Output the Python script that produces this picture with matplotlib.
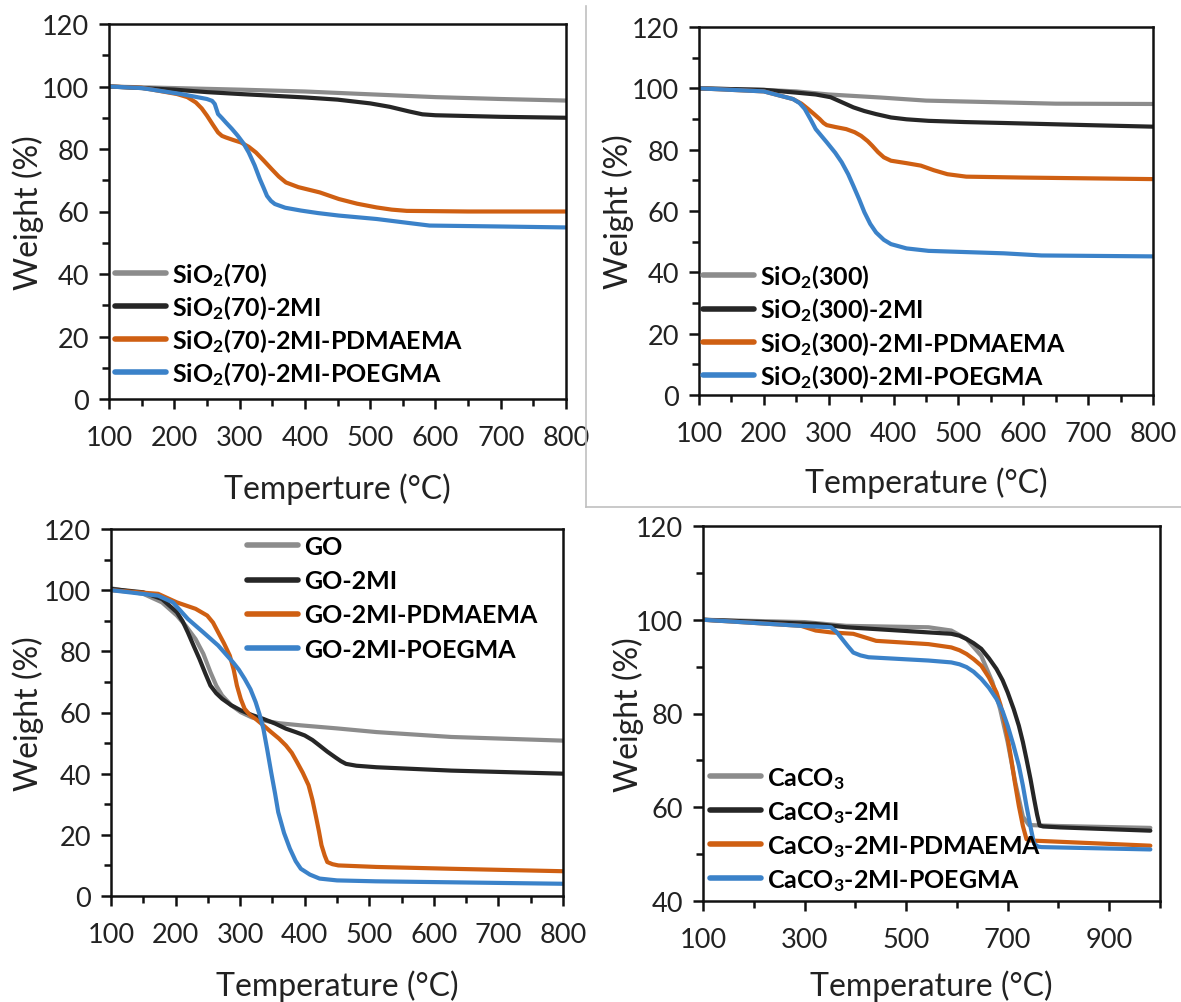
import matplotlib
matplotlib.use("Agg")
import matplotlib.pyplot as plt
from matplotlib.lines import Line2D
from matplotlib.ticker import MultipleLocator
import numpy as np

plt.rcParams["font.family"] = ["Lato", "DejaVu Sans"]
plt.rcParams["mathtext.fontset"] = "custom"
plt.rcParams["mathtext.rm"] = "Lato:bold"
plt.rcParams["mathtext.it"] = "Lato:bold"
plt.rcParams["mathtext.bf"] = "Lato:bold"

GRAY = "#8c8c8c"
BLACK = "#262626"
ORANGE = "#cf5f12"
BLUE = "#3b82c9"

# ---- SiO2(70) ----
t70_gray = [100, 200, 300, 400, 500, 600, 700, 800]
w70_gray = [100, 99.5, 99.0, 98.4, 97.5, 96.6, 96.0, 95.5]
t70_black = [100, 200, 250, 300, 400, 450, 500, 530, 560, 580, 600, 700, 800]
w70_black = [100, 99.0, 98.2, 97.6, 96.5, 95.8, 94.6, 93.5, 92.0, 91.1, 90.8, 90.3, 90.0]
t70_orange = [100, 150, 204, 220, 233, 242, 250, 259, 267, 273, 279, 290, 302, 314, 325, 337, 349, 360,
              371, 390, 423, 452, 480, 510, 533, 556, 650, 800]
w70_orange = [100, 99.6, 97.6, 96.6, 94.9, 93.0, 90.7, 87.8, 85.3, 84.2, 83.7, 82.9, 82.1, 80.7, 78.9, 76.3,
              73.6, 71.2, 69.3, 67.8, 66.1, 64.0, 62.5, 61.3, 60.6, 60.2, 60.0, 60.0]
t70_blue = [100, 150, 210, 250, 258, 262, 267, 273, 279, 288, 297, 306, 314, 323, 331, 337, 342, 348,
            354, 370, 394, 420, 452, 510, 556, 591, 700, 800]
w70_blue = [100, 99.5, 97.6, 96.0, 95.4, 94.4, 91.2, 89.9, 88.5, 86.5, 84.3, 81.8, 78.9, 74.8, 70.4, 67.5,
            65.0, 63.4, 62.4, 61.2, 60.3, 59.5, 58.7, 57.6, 56.4, 55.5, 55.2, 54.9]

# ---- SiO2(300) ----
t300_gray = [100, 200, 250, 300, 380, 450, 550, 650, 800]
w300_gray = [100, 99.5, 99.0, 98.0, 97.0, 96.0, 95.5, 95.0, 94.9]
t300_black = [100, 200, 250, 280, 303, 320, 338, 355, 373, 396, 420, 454, 510, 570, 700, 800]
w300_black = [100, 99.5, 98.6, 98.0, 97.1, 95.5, 93.8, 92.6, 91.6, 90.5, 89.9, 89.4, 89.0, 88.7, 88.0, 87.5]
t300_orange = [100, 200, 245, 258, 268, 278, 286, 292, 297, 310, 327, 340, 350, 360, 367, 376, 385, 396,
               420, 442, 462, 483, 512, 600, 800]
w300_orange = [100, 99.0, 96.5, 95.0, 93.3, 91.5, 90.0, 88.7, 88.0, 87.4, 86.7, 85.7, 84.5, 82.8, 81.3, 79.2,
               77.5, 76.4, 75.6, 74.8, 73.3, 72.0, 71.2, 70.9, 70.4]
t300_blue = [100, 200, 245, 255, 263, 272, 280, 297, 310, 320, 330, 338, 347, 355, 364, 373, 385, 396,
             420, 454, 570, 628, 800]
w300_blue = [100, 99.0, 96.5, 95.2, 93.3, 89.9, 86.7, 82.4, 79.0, 75.9, 72.0, 68.2, 63.8, 59.6, 55.8, 53.0,
             50.6, 49.2, 47.8, 47.0, 46.2, 45.5, 45.2]

# ---- GO ----
tgo_gray = [100, 150, 179, 202, 216, 231, 243, 254, 263, 272, 286, 301, 318, 336, 360, 394, 450, 511, 627, 800]
wgo_gray = [100.6, 98.8, 96.0, 91.7, 88.3, 84.0, 79.2, 73.2, 68.8, 65.6, 62.4, 60.1, 58.4, 57.4, 56.5, 55.8,
            54.8, 53.6, 52.0, 50.8]
tgo_black = [100, 150, 179, 202, 211, 219, 228, 237, 246, 254, 263, 272, 286, 301, 318, 336, 354, 371, 386,
             400, 412, 423, 435, 447, 456, 464, 480, 511, 627, 800]
wgo_black = [100.4, 99.3, 97.1, 92.8, 89.8, 86.2, 81.8, 77.5, 72.8, 68.8, 66.3, 64.5, 62.4, 60.7, 59.2, 57.9,
             56.4, 54.7, 53.6, 52.5, 51.0, 49.2, 47.2, 45.4, 44.1, 43.2, 42.6, 42.1, 41.0, 40.0]
tgo_orange = [100, 173, 202, 231, 249, 258, 266, 275, 284, 290, 295, 301, 307, 315, 324, 336, 348, 360, 371,
              380, 388, 397, 406, 412, 417, 422, 426, 431, 435, 443, 452, 511, 627, 800]
wgo_orange = [100, 98.8, 96.0, 93.9, 91.7, 89.4, 86.2, 82.6, 78.6, 74.0, 68.8, 64.4, 61.2, 59.2, 57.9, 55.8,
              53.6, 51.5, 49.2, 46.8, 43.8, 40.3, 36.2, 31.4, 26.4, 21.2, 16.6, 13.2, 11.1, 10.4, 10.0, 9.5,
              8.9, 8.1]
tgo_blue = [100, 173, 196, 219, 243, 266, 289, 298, 307, 316, 324, 330, 336, 342, 348, 354, 359, 368, 377,
            386, 394, 408, 423, 450, 510, 800]
wgo_blue = [100, 98.2, 96.0, 90.6, 86.2, 81.9, 76.4, 74.0, 71.0, 67.6, 63.4, 59.4, 54.7, 47.8, 40.5, 33.6,
            27.4, 20.6, 15.5, 11.4, 8.9, 7.0, 5.7, 5.1, 4.8, 4.0]

# ---- CaCO3 ----
tca_gray = [100, 300, 382, 544, 589, 619, 648, 670, 685, 700, 715, 730, 742, 800, 981]
wca_gray = [100, 99.5, 98.7, 98.4, 97.7, 95.9, 92.3, 86.7, 81.0, 73.9, 65.3, 58.0, 56.2, 56.0, 55.6]
tca_black = [100, 322, 382, 544, 589, 605, 619, 633, 648, 663, 678, 690, 700, 712, 722, 730, 737, 745, 752,
             758, 763, 770, 804, 981]
wca_black = [100, 99.1, 98.4, 97.3, 97.0, 96.6, 95.9, 95.0, 93.8, 91.8, 89.5, 87.1, 84.5, 80.9, 77.4, 73.9,
             70.3, 66.0, 61.8, 58.4, 56.1, 55.9, 55.7, 55.0]
tca_orange = [100, 293, 322, 352, 396, 441, 544, 589, 605, 619, 633, 648, 663, 678, 686, 693, 700, 707, 714,
              722, 730, 737, 745, 767, 981]
wca_orange = [100, 98.7, 97.7, 97.3, 97.0, 95.5, 94.8, 94.1, 93.5, 92.7, 91.6, 90.2, 87.7, 84.5, 81.8, 78.8,
              74.8, 70.3, 65.4, 60.3, 56.0, 53.2, 52.9, 52.8, 51.8]
tca_blue = [100, 293, 352, 363, 374, 385, 396, 410, 426, 544, 589, 605, 619, 633, 648, 663, 678, 690, 700,
            711, 722, 730, 737, 745, 752, 760, 767, 981]
wca_blue = [100, 98.7, 98.4, 97.4, 95.9, 94.4, 93.0, 92.4, 92.0, 91.3, 90.9, 90.5, 89.9, 88.9, 87.4, 85.5,
            83.1, 80.5, 77.4, 73.4, 68.9, 64.6, 60.3, 55.8, 52.2, 51.6, 51.5, 51.0]

W, H = 1181, 1003
fig = plt.figure(figsize=(W / 100, H / 100), dpi=100)


def make_axes(left, right, top, bottom):
    return fig.add_axes([left / W, 1 - bottom / H, (right - left) / W, (bottom - top) / H])


def style(ax, xlim, ylim, xmaj, xmin, ymaj, ymin):
    ax.set_xlim(*xlim)
    ax.set_ylim(*ylim)
    ax.xaxis.set_major_locator(MultipleLocator(xmaj))
    ax.xaxis.set_minor_locator(MultipleLocator(xmin))
    ax.yaxis.set_major_locator(MultipleLocator(ymaj))
    ax.yaxis.set_minor_locator(MultipleLocator(ymin))
    for s in ax.spines.values():
        s.set_linewidth(1.8)
        s.set_color("#111111")
    ax.tick_params(which="major", direction="out", length=7.5, width=1.8, colors="#111111",
                   labelsize=19.5, labelcolor="#222222")
    ax.tick_params(which="minor", direction="out", length=5, width=1.8, colors="#111111")
    ax.tick_params(axis="x", which="major", pad=11)
    ax.tick_params(axis="y", which="major", pad=7)


def curves(ax, data, labels, top_px, left_px, ax_top, ax_left, ax_h, ax_w, spacing):
    cols = [GRAY, BLACK, ORANGE, BLUE]
    for (t, w), lab, c in zip(data, labels, cols):
        ax.plot(t, w, color=c, lw=3.0, label=lab, solid_capstyle="round", solid_joinstyle="round")
    leg = ax.legend(loc="upper left",
                    bbox_to_anchor=((left_px - ax_left) / ax_w, 1 - (top_px - ax_top) / ax_h),
                    frameon=False, handlelength=2.05, handletextpad=0.25, labelspacing=spacing,
                    borderaxespad=0, borderpad=0, prop={"weight": "bold", "size": 18})
    for h in leg.get_lines():
        h.set_linewidth(4)


def labels(ax, xlab, xlab_y, ylab_x, ax_top, ax_left, ax_h, ax_w):
    ax.set_xlabel(xlab, fontsize=23, color="#222222")
    ax.set_ylabel("Weight (%)", fontsize=23, color="#222222")
    ax.xaxis.label.set_va("center")
    ax.yaxis.label.set_va("center")
    ax.xaxis.set_label_coords(0.5, 1 - (xlab_y - ax_top) / ax_h)
    ax.yaxis.set_label_coords((ylab_x - ax_left) / ax_w, 0.5)


# panel 1
ax1 = make_axes(109, 566, 25, 400)
style(ax1, (100, 800), (0, 120), 100, 50, 20, 10)
curves(ax1, [(t70_gray, w70_gray), (t70_black, w70_black), (t70_orange, w70_orange), (t70_blue, w70_blue)],
       ["SiO$_2$(70)", "SiO$_2$(70)-2MI", "SiO$_2$(70)-2MI-PDMAEMA", "SiO$_2$(70)-2MI-POEGMA"],
       261, 115, 25, 109, 375, 457, 0.2)
labels(ax1, "Temperture (°C)", 489, 28, 25, 109, 375, 457)

# panel 2
ax2 = make_axes(699, 1153, 28, 396)
style(ax2, (100, 800), (0, 120), 100, 50, 20, 10)
curves(ax2, [(t300_gray, w300_gray), (t300_black, w300_black), (t300_orange, w300_orange), (t300_blue, w300_blue)],
       ["SiO$_2$(300)", "SiO$_2$(300)-2MI", "SiO$_2$(300)-2MI-PDMAEMA", "SiO$_2$(300)-2MI-POEGMA"],
       263, 703, 28, 699, 368, 454, 0.22)
labels(ax2, "Temperature (°C)", 483, 618, 28, 699, 368, 454)

# panel 3
ax3 = make_axes(111, 563, 530, 897)
style(ax3, (100, 800), (0, 120), 100, 50, 20, 10)
curves(ax3, [(tgo_gray, wgo_gray), (tgo_black, wgo_black), (tgo_orange, wgo_orange), (tgo_blue, wgo_blue)],
       ["GO", "GO-2MI", "GO-2MI-PDMAEMA", "GO-2MI-POEGMA"],
       536, 247, 530, 111, 367, 452, 0.45)
labels(ax3, "Temperature (°C)", 986, 28, 530, 111, 367, 452)

# panel 4
ax4 = make_axes(703, 1160, 527, 902)
style(ax4, (100, 1000), (40, 120), 200, 100, 20, 10)
ax4.set_xticks([100, 300, 500, 700, 900])
curves(ax4, [(tca_gray, wca_gray), (tca_black, wca_black), (tca_orange, wca_orange), (tca_blue, wca_blue)],
       ["CaCO$_3$", "CaCO$_3$-2MI", "CaCO$_3$-2MI-PDMAEMA", "CaCO$_3$-2MI-POEGMA"],
       766, 710, 527, 703, 375, 457, 0.32)
labels(ax4, "Temperature (°C)", 986, 628, 527, 703, 375, 457)

# light frame around the top-right panel
fig.add_artist(Line2D([586 / W, 586 / W], [1 - 7 / H, 1 - 508 / H], color="#c0c0c0", lw=1.2))
fig.add_artist(Line2D([586 / W, 1.0], [1 - 508 / H, 1 - 508 / H], color="#c0c0c0", lw=1.2))

fig.savefig("out.png", dpi=100)
